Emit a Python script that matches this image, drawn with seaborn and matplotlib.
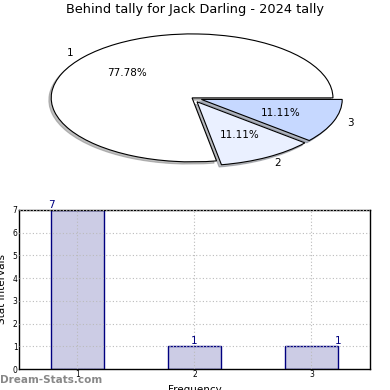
import matplotlib
matplotlib.use("Agg")
import matplotlib.pyplot as plt
import seaborn as sns
import pandas as pd

title = "Behind tally for Jack Darling - 2024 tally"
categories = ["1", "2", "3"]
counts = [7, 1, 1]
pie_colors = ["#FFFFFF", "#EAF0FF", "#C6D8FF"]
explode = [0.0, 0.07, 0.07]

sns.set_style("white")
plt.rcParams['font.family'] = ['DejaVu Sans']
plt.rcParams['text.color'] = 'black'
plt.rcParams['axes.labelcolor'] = 'black'
plt.rcParams['xtick.color'] = 'black'
plt.rcParams['ytick.color'] = 'black'

fig = plt.figure(figsize=(3.9, 3.9), dpi=100)

# Pie chart
axp = fig.add_axes([0.041, 0.544, 0.903, 0.41])
wedges, texts, autotexts = axp.pie(
    counts, labels=categories, colors=pie_colors, explode=explode,
    autopct="%.2f%%", shadow=dict(ox=-0.012, oy=-0.025, shade=0.5),
    startangle=0, counterclock=True,
    wedgeprops=dict(edgecolor="black", linewidth=0.8),
    textprops=dict(fontsize=7.5, color="black"))
axp.set_aspect("auto")
axp.set_xlim(-1.25, 1.25)
axp.set_ylim(-1.25, 1.25)
fig.text(0.5, 0.975, title, ha="center", va="center", fontsize=9.3,
         color="black")

# Bar chart
axb = fig.add_axes([0.0487, 0.0538, 0.9, 0.408])
df = pd.DataFrame({"cat": categories, "val": counts})
sns.barplot(data=df, x="cat", y="val", ax=axb, width=0.45,
            color="#CCCCE5", edgecolor="#000080", linewidth=1.0,
            saturation=1)
axb.set_xlim(-0.5, 2.5)
axb.set_ylim(0, 7)
axb.set_yticks(range(0, 8))
axb.tick_params(labelsize=5.5, length=2, pad=1, direction="in")
axb.grid(True, linestyle=(0, (1, 2)), color="#BBBBBB", linewidth=0.8)
axb.set_axisbelow(False)
for s in axb.spines.values():
    s.set_color("black")
    s.set_linewidth(1.0)
axb.set_ylabel("Stat Intervals", fontsize=7.5, labelpad=4)
axb.set_xlabel("Frequency", fontsize=7.5, labelpad=4)
offsets = [-0.225, 0.0, 0.225]
for i, (v, off) in enumerate(zip(counts, offsets)):
    axb.text(i + off, v, str(v), ha="center", va="bottom",
             color="#000080", fontsize=7.5)

fig.text(0.0, 0.025, "Dream-Stats.com", fontsize=7.5, color="#888888",
         fontweight="bold", ha="left", va="center")

fig.savefig("out.png", dpi=100)
